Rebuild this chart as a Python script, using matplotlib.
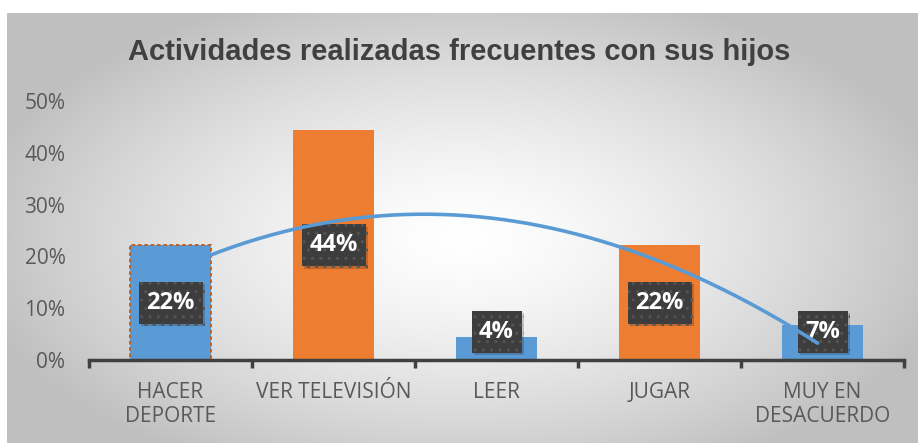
import numpy as np
import matplotlib
matplotlib.use("Agg")
import matplotlib.pyplot as plt
import matplotlib.patheffects as pe
from matplotlib.patches import Rectangle
from matplotlib.ticker import PercentFormatter

# Datos
categorias = ["HACER\nDEPORTE", "VER TELEVISIÓN", "LEER", "JUGAR", "MUY EN\nDESACUERDO"]
valores = [0.222, 0.444, 0.044, 0.222, 0.067]
etiquetas = ["22%", "44%", "4%", "22%", "7%"]
colores = ["#5B9BD5", "#ED7D31", "#5B9BD5", "#ED7D31", "#5B9BD5"]

# puntos leidos sobre la linea de tendencia (indice de categoria, valor)
tendencia_x = [0.24, 0.78, 1.39, 1.70, 2.12, 2.73, 3.22, 3.97]
tendencia_y = [0.203, 0.251, 0.282, 0.282, 0.266, 0.222, 0.160, 0.033]

TITULO = "Actividades realizadas frecuentes con sus hijos"

fig = plt.figure(figsize=(9.18, 4.43), dpi=100)
fig.patch.set_facecolor("white")

# Fondo con degradado radial
fondo = fig.add_axes([7 / 918, 0, 1 - 7 / 918, (443 - 13) / 443])
fondo.set_axis_off()
gx, gy = np.meshgrid(np.linspace(-1, 1, 400), np.linspace(-1, 1, 200))
r = np.sqrt((gx + 0.0) ** 2 + ((gy - 0.05) * 0.9) ** 2)
tono = np.clip(1.0 - 0.22 * r ** 1.4, 0.75, 1.0)
fondo.imshow(np.dstack([tono, tono, tono]), aspect="auto", extent=[0, 1, 0, 1])

ax = fig.add_axes([89 / 918, (443 - 360) / 443, (904 - 89) / 918, (360 - 101) / 443])
ax.patch.set_alpha(0)

x = np.arange(len(categorias))
barras = ax.bar(x, valores, width=0.5, color=colores, zorder=2)
barras[0].set_edgecolor("#C55A11")
barras[0].set_linestyle((0, (2, 1.5)))
barras[0].set_linewidth(1.3)

# linea de tendencia
coef = np.polyfit(tendencia_x, tendencia_y, 3)
xs = np.linspace(0.24, 3.97, 200)
ax.plot(xs, np.polyval(coef, xs), color="#5B9BD5", lw=2.6, zorder=5,
        solid_capstyle="round")

ax.set_xlim(-0.5, 4.5)
ax.set_ylim(0, 0.5)

# etiquetas de datos con caja oscura punteada
px_x = 5 / 815.0
px_y = 0.5 / 259.0
for xi, v, t in zip(x, valores, etiquetas):
    y = max(v / 2, 0.055)
    ancho = (64 if len(t) > 2 else 50) * px_x
    alto = 42 * px_y
    caja = Rectangle((xi - ancho / 2, y - alto / 2), ancho, alto,
                     facecolor="#3d3d3d", edgecolor="#555555", linewidth=0,
                     hatch="..", zorder=3.5)
    caja.set_path_effects([pe.SimplePatchShadow(offset=(2, -2), alpha=0.2),
                           pe.Normal()])
    ax.add_patch(caja)
    ax.text(xi, y, t, ha="center", va="center", color="white",
            fontsize=17, fontweight="bold", family="Open Sans", zorder=4)

ax.set_yticks(np.arange(0, 0.51, 0.1))
ax.yaxis.set_major_formatter(PercentFormatter(1.0, decimals=0))
ax.set_xticks(np.arange(-0.5, 4.6, 1))
ax.set_xticklabels([])
ax.set_xticks(x, minor=True)
ax.set_xticklabels(categorias, minor=True)

for s in ["top", "right", "left"]:
    ax.spines[s].set_visible(False)
ax.spines["bottom"].set_color("#404040")
ax.spines["bottom"].set_linewidth(2.5)
ax.tick_params(axis="y", length=0, pad=17, labelsize=15, labelcolor="#595959")
ax.tick_params(axis="x", which="major", length=6, width=2.5, color="#404040")
ax.tick_params(axis="x", which="minor", length=0, pad=16, labelsize=15,
               labelcolor="#595959")
for lab in ax.get_yticklabels() + ax.get_xticklabels(minor=True):
    lab.set_family("Open Sans")
    lab.set_linespacing(1.2)

fig.text(0.5, (443 - 52) / 443, TITULO, ha="center", va="center", fontsize=21,
         fontweight="bold", color="#404040", family="Liberation Sans")

fig.savefig("out.png", dpi=100)
